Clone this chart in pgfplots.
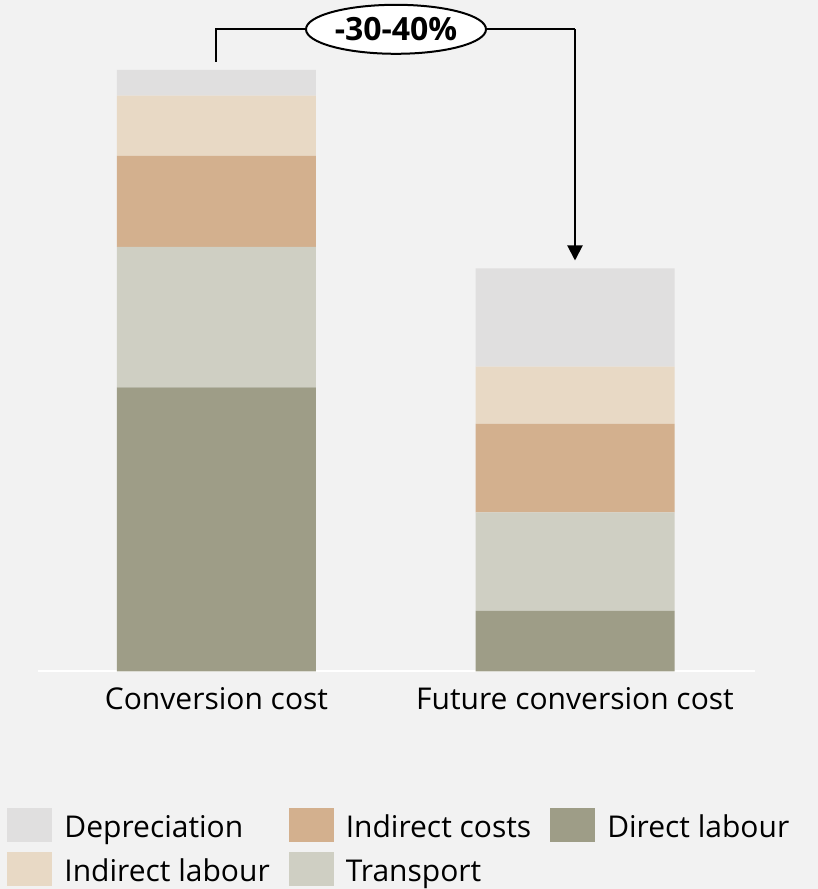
\documentclass[border=0pt]{standalone}
\usepackage{pgfplots}
\pgfplotsset{compat=1.18}
\usepackage{fontspec}
\setmainfont{Open Sans}
\usetikzlibrary{arrows.meta,shapes.geometric}
\definecolor{bg}{HTML}{F2F2F2}
\definecolor{cdep}{HTML}{E0DFDF}
\definecolor{cil}{HTML}{E8D9C5}
\definecolor{cic}{HTML}{D3B08E}
\definecolor{ctr}{HTML}{CFCFC3}
\definecolor{cdl}{HTML}{9E9D87}
\begin{document}
\begin{tikzpicture}
\fill[bg] (0,0) rectangle (409pt,444.5pt);
\begin{axis}[
  at={(19pt,108.75pt)}, anchor=south west,
  scale only axis, width=358.5pt, height=325.75pt,
  xmin=-0.4979, xmax=1.5021, ymin=0, ymax=651.5,
  ybar stacked, bar width=99.5pt,
  axis line style={draw=none},
  ytick=\empty, xtick={0,1},
  xticklabels={Conversion cost, Future conversion cost},
  major tick length=0pt,
  xticklabel style={font=\fontsize{15}{18}\selectfont, anchor=base, inner sep=0pt, yshift=-19.25pt},
  clip=false,
  legend cell align=left,
  legend style={at={(-0.0432,-0.2089)}, anchor=north west, draw=none, fill=none, inner sep=0pt,
    font=\fontsize{15}{18}\selectfont, column sep=6pt, row sep=5pt,
    /tikz/every even column/.append style={column sep=9.5pt},
    nodes={inner sep=0pt, text height=11pt, text depth=2pt}},
  legend columns=3,
  legend image code/.code={\fill[#1] (0pt,-6.5pt) rectangle (22.5pt,10.5pt);},
]
\addplot[fill=cdl, draw=none, forget plot] coordinates {(0,284) (1,60.5)};
\addplot[fill=ctr, draw=none, forget plot] coordinates {(0,140.5) (1,98.7)};
\addplot[fill=cic, draw=none, forget plot] coordinates {(0,91) (1,88.3)};
\addplot[fill=cil, draw=none, forget plot] coordinates {(0,60.3) (1,57.3)};
\addplot[fill=cdep, draw=none, forget plot] coordinates {(0,25.7) (1,98.4)};
\addlegendimage{fill=cdep, draw=none}
\addlegendimage{fill=cic, draw=none}
\addlegendimage{fill=cdl, draw=none}
\addlegendimage{fill=cil, draw=none}
\addlegendimage{fill=ctr, draw=none}
\legend{Depreciation, Indirect costs, Direct labour, Indirect labour, Transport}
\draw[white, line width=1pt] (rel axis cs:0,0) -- (rel axis cs:1,0);
\coordinate (A) at (axis cs:0,609.8);
\coordinate (B) at (axis cs:0,642.2);
\coordinate (C) at (axis cs:1,642.2);
\coordinate (D) at (axis cs:1,411);
\coordinate (M) at (axis cs:0.5007,642.2);
\end{axis}
\draw[line width=1pt] (A) -- (B) -- (C);
\draw[line width=1pt, -{Triangle[length=7.5pt,width=7.5pt]}] (C) -- (D);
\node[ellipse, draw, fill=white, line width=1pt, minimum width=90pt, minimum height=24.5pt, inner sep=0pt,
  font=\bfseries\fontsize{16}{19}\selectfont] at (M) {-30-40\%};
\end{tikzpicture}
\end{document}
